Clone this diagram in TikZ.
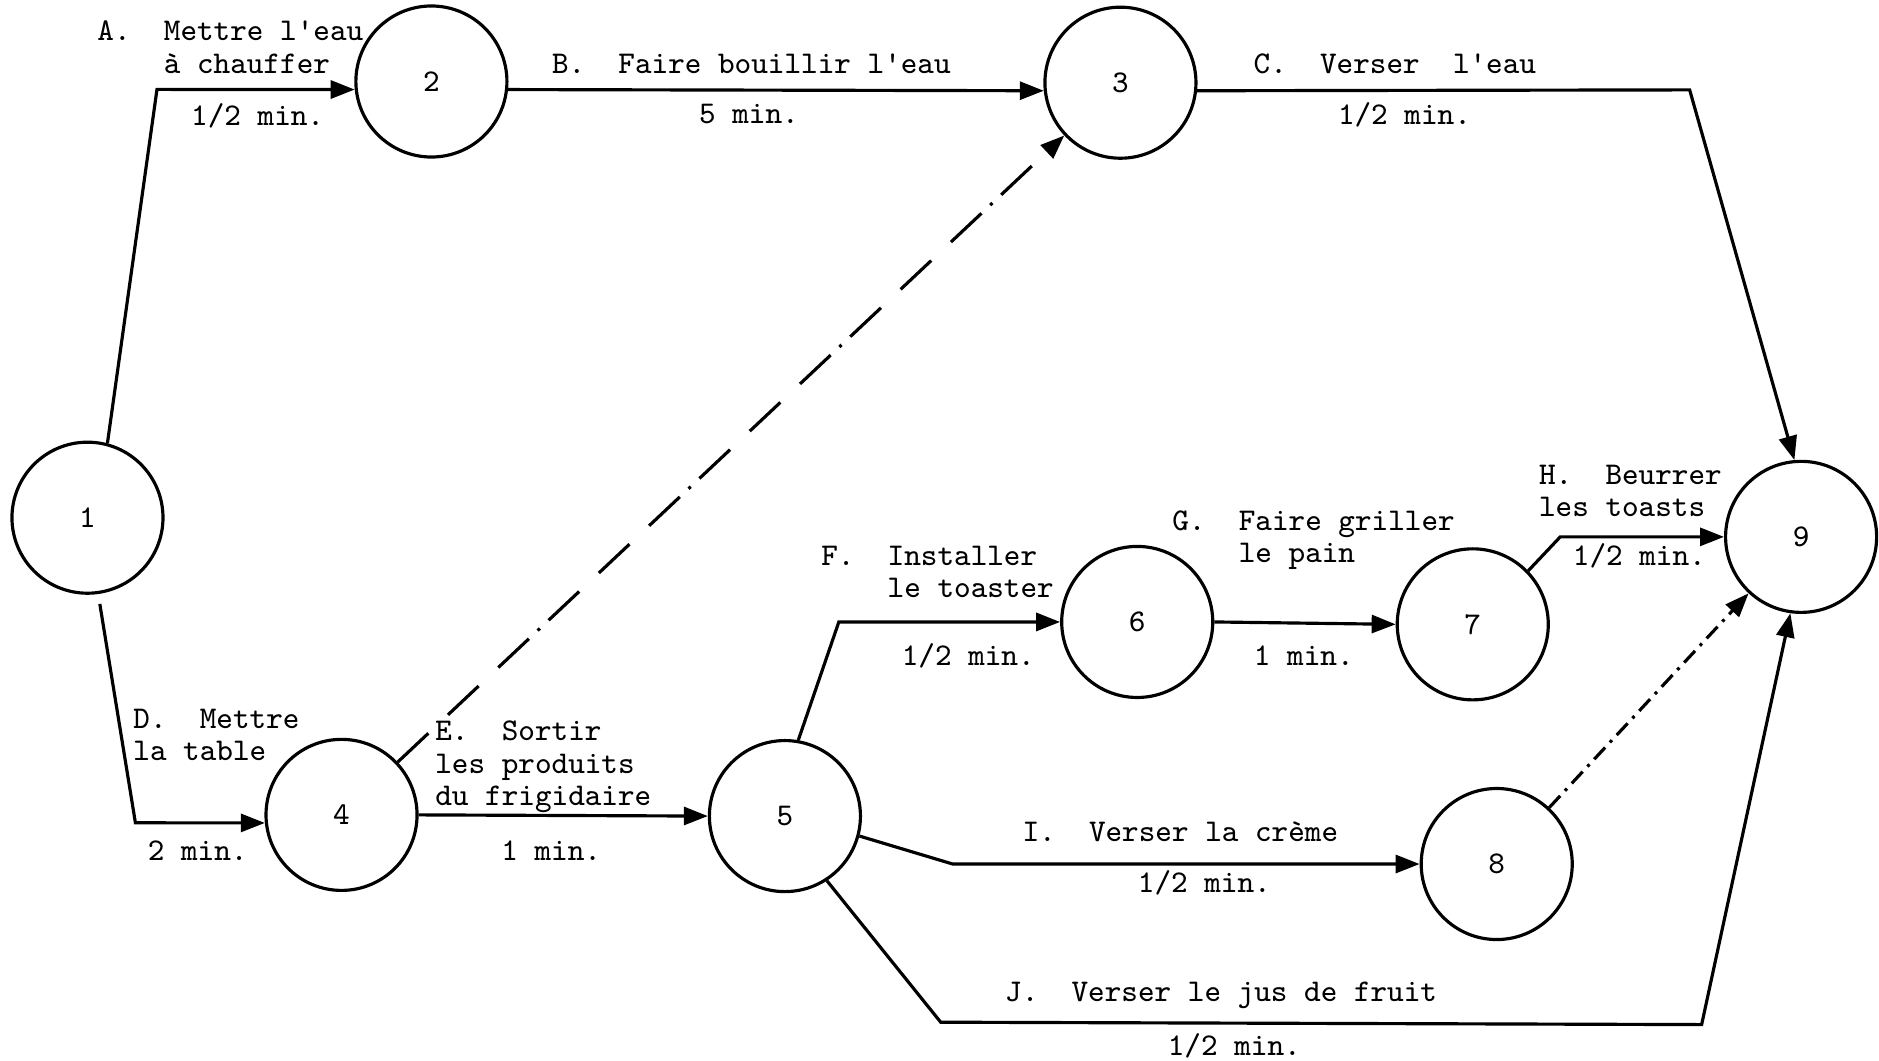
\documentclass[tikz,border=0pt]{standalone}
\usetikzlibrary{arrows.meta}

\begin{document}
\begin{tikzpicture}[x=1.198mm, y=1.198mm, line width=0.9pt,
		font=\ttfamily\fontsize{9}{9.2}\selectfont,
		event/.style={draw, circle, minimum size=15.1mm, inner sep=0pt},
		task/.style={-{Triangle[length=2.4mm, width=1.8mm]}},
		dummy/.style={task, dash pattern=on 4.2mm off 2.7mm on 4.2mm off 2.7mm on 4.2mm off 1.2mm on 0.3mm off 1.2mm},
		dummydot/.style={task, dash pattern=on 1.6mm off 0.7mm on 0.3mm off 0.7mm},
		txt/.style={inner sep=0pt, align=left}]
			\useasboundingbox (0,0) rectangle (156.8,-88.5);

			\foreach \n/\x/\y in {1/7.3/43.2, 2/36.0/6.8, 3/93.5/6.9, 4/28.5/68.0, 5/65.5/68.1,
				6/94.9/51.9, 7/122.9/52.1, 8/124.9/72.1, 9/150.3/44.8} {
				\node[event] (n\n) at (\x,-\y) {\n};
			}

			\coordinate (a) at (13.1,-7.46);
			\coordinate (c) at (141.0,-7.5);
			\coordinate (d) at (11.3,-68.66);
			\coordinate (f) at (70.0,-51.9);
			\coordinate (h) at (130.2,-44.8);
			\coordinate (i) at (79.5,-72.1);
			\coordinate (j1) at (78.5,-85.3);
			\coordinate (j2) at (142.0,-85.5);

			\draw[task] (n1.75) -- (a) -- (n2.186);
			\draw[task] (n2.-6) -- (n3.186);
			\draw[task] (n3.-6) -- (c) -- (n9.95);
			\draw[task, shorten <=1mm] (n1.-82) -- (d) -- (n4.186);
			\draw[task] (n4.east) -- (n5.west);
			\draw[dummy] (n4) -- (n3);
			\draw[task] (n5.80) -- (f) -- (n6.west);
			\draw[task] (n6.east) -- (n7.west);
			\draw[task] (n7.44) -- (h) -- (n9.west);
			\draw[task] (n5.-15) -- (i) -- (n8.west);
			\draw[task] (n5.-57) -- (j1) -- (j2) -- (n9.-98);
			\draw[dummydot] (n8) -- (n9);

			\node[txt, anchor=west] (lA) at (8.0,-3.95) {A.\ \ Mettre l'eau\\\hspace*{2.1em}à chauffer};
			\node[txt] (tA) at (21.5,-9.7) {1/2 min.};
			\node[txt] (lB) at (62.7,-5.3) {B.\ \ Faire bouillir l'eau};
			\node[txt] (tB) at (62.5,-9.5) {5 min.};
			\node[txt] (lC) at (116.4,-5.3) {C.\ \ Verser\ \ l'eau};
			\node[txt] (tC) at (117.2,-9.6) {1/2 min.};
			\node[txt, anchor=west] (lD) at (11.0,-61.35) {D.\ \ Mettre\\la table};
			\node[txt] (tD) at (16.5,-71.0) {2 min.};
			\node[txt, anchor=west] (lE) at (36.2,-64.0) {E.\ \ Sortir\\les produits\\du frigidaire};
			\node[txt] (tE) at (46.0,-71.0) {1 min.};
			\node[txt, anchor=west] (lF) at (68.4,-47.75) {F.\ \ Installer\\\hspace*{2.1em}le toaster};
			\node[txt] (tF) at (80.8,-54.7) {1/2 min.};
			\node[txt, anchor=west] (lG) at (97.7,-45.05) {G.\ \ Faire griller\\\hspace*{2.1em}le pain};
			\node[txt] (tG) at (108.8,-54.7) {1 min.};
			\node[txt, anchor=west] (lH) at (128.3,-40.95) {H.\ \ Beurrer\\les toasts};
			\node[txt] (tH) at (136.8,-46.4) {1/2 min.};
			\node[txt] (lI) at (98.5,-69.4) {I.\ \ Verser la crème};
			\node[txt] (tI) at (100.5,-73.7) {1/2 min.};
			\node[txt] (lJ) at (101.9,-83.1) {J.\ \ Verser le jus de fruit};
			\node[txt] (tJ) at (103.0,-87.3) {1/2 min.};
		\end{tikzpicture}
\end{document}
